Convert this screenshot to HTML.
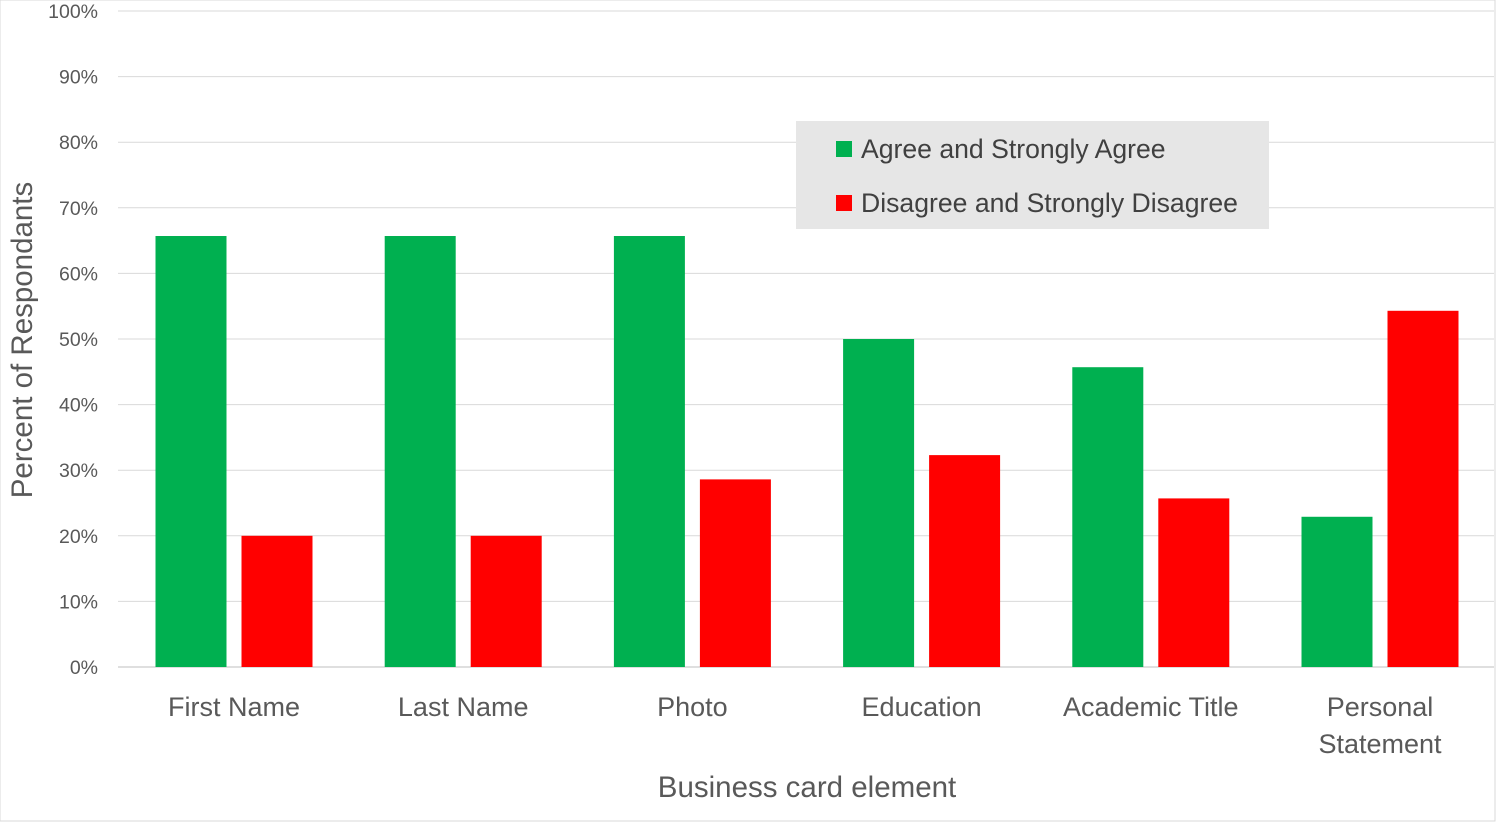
<!DOCTYPE html>
<html><head><meta charset="utf-8"><style>
body{margin:0;background:#fff;font-family:"Liberation Sans",sans-serif;}
svg{display:block}
</style></head><body>
<svg id="chart" width="1496" height="822">
<rect x="0" y="0" width="1495" height="821" fill="#fff" stroke="#d9d9d9"/>
<g id="grid"></g><g id="bars"></g><g id="labels"></g>
<text x="32" y="340" transform="rotate(-90 32 340)" text-anchor="middle" font-size="29.5" fill="#595959">Percent of Respondants</text>
<text x="807" y="797" text-anchor="middle" font-size="29.5" fill="#595959">Business card element</text>
<g>
<rect x="796" y="121" width="473" height="108" fill="#e6e6e6"/>
<rect x="836" y="141" width="16" height="16" fill="#00b050"/>
<text x="861" y="158" font-size="26.6" fill="#404040">Agree and Strongly Agree</text>
<rect x="836" y="195" width="16" height="16" fill="#ff0000"/>
<text x="861" y="212" font-size="26.6" fill="#404040">Disagree and Strongly Disagree</text>
</g>
</svg>
<script>
const categories=[["First Name"],["Last Name"],["Photo"],["Education"],["Academic Title"],["Personal","Statement"]];
const agree=[65.7,65.7,65.7,50,45.7,22.9];
const disagree=[20,20,28.6,32.3,25.7,54.3];
const ticks=[0,10,20,30,40,50,60,70,80,90,100];
const NS="http://www.w3.org/2000/svg";
const x0=119.4,x1=1494.6,y0=667,y100=11;
const y=v=>y0+(y100-y0)*v/100;
const band=(x1-x0)/categories.length;
const cx=i=>x0+band*(i+0.5);
function mk(t,a,p){const e=document.createElementNS(NS,t);for(const k in a)e.setAttribute(k,a[k]);p.appendChild(e);return e;}
const grid=document.getElementById('grid'),bars=document.getElementById('bars'),labels=document.getElementById('labels');
ticks.forEach(t=>{
 const l=mk('line',{x1:118,x2:1494,y1:y(t),y2:y(t),stroke:t===0?'#bfbfbf':'#d9d9d9','stroke-width':1},grid);
 
 
 const tx=mk('text',{x:98,y:y(t)+7,'text-anchor':'end','font-size':19.5,fill:'#595959'},labels);
 tx.textContent=t+'%';
 
 
});
categories.forEach((c,i)=>{
 const g=mk('rect',{x:cx(i)-78.5,y:y(agree[i]),width:71,height:y0-y(agree[i]),fill:'#00b050'},bars);
 
 
 const r=mk('rect',{x:cx(i)+7.5,y:y(disagree[i]),width:71,height:y0-y(disagree[i]),fill:'#ff0000'},bars);
 
 
 c.forEach((s,j)=>{
  const t=mk('text',{x:cx(i),y:716+j*37,'text-anchor':'middle','font-size':27,fill:'#595959'},labels);
  t.textContent=s;
  
  
 });
});
</script>
</body></html>
